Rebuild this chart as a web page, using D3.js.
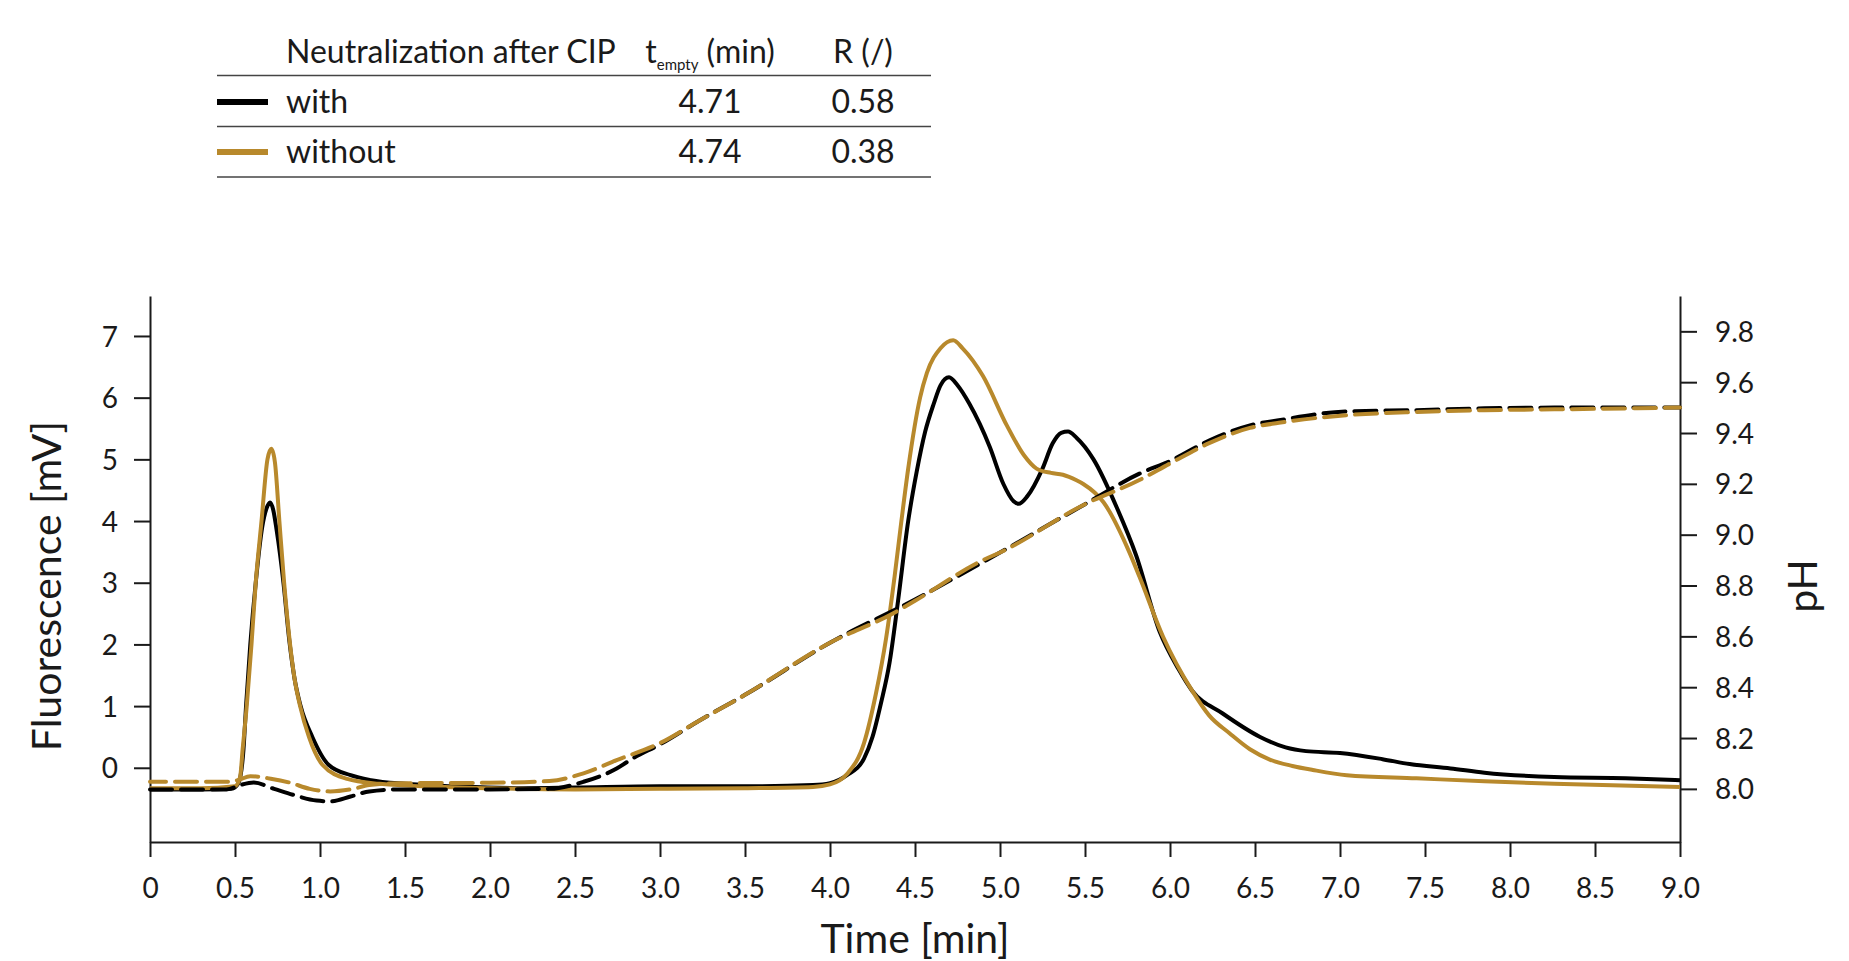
<!DOCTYPE html>
<html>
<head>
<meta charset="utf-8">
<script src="https://cdn.jsdelivr.net/npm/d3@7"></script>
<style>
  html, body { margin: 0; padding: 0; background: #ffffff; }
  svg { display: block; font-family: Lato, "Open Sans", sans-serif; }
</style>
</head>
<body>
<svg id="chart" width="1849" height="961"></svg>
<script>
// ---------- data ----------
const xTicks = [0, 0.5, 1, 1.5, 2, 2.5, 3, 3.5, 4, 4.5, 5, 5.5, 6, 6.5, 7, 7.5, 8, 8.5, 9];
const leftTicks = [0, 1, 2, 3, 4, 5, 6, 7];
const rightTicks = [8.0, 8.2, 8.4, 8.6, 8.8, 9.0, 9.2, 9.4, 9.6, 9.8];

const seriesNames = ["with", "without"];
const tEmptyValues = ["4.71", "4.74"];
const rValues = ["0.58", "0.38"];
const tableHeader = "Neutralization after CIP";

// Fluorescence, "with" neutralization (black solid)
const withFluoTime = [0, 0.3, 0.48, 0.52, 0.55, 0.565, 0.59, 0.622, 0.66, 0.685, 0.706, 0.725, 0.745, 0.785, 0.82, 0.85, 0.886, 0.955, 1.05, 1.18, 1.3, 1.5, 1.8, 2.2, 2.5, 3.0, 3.5, 3.9, 4.0, 4.1, 4.2, 4.25, 4.3, 4.35, 4.4, 4.46, 4.51, 4.56, 4.61, 4.65, 4.70, 4.75, 4.82, 4.94, 5.02, 5.08, 5.11, 5.16, 5.25, 5.31, 5.36, 5.40, 5.45, 5.55, 5.69, 5.80, 5.94, 6.05, 6.13, 6.31, 6.53, 6.68, 6.80, 7.0, 7.25, 7.41, 7.65, 7.85, 8.26, 8.68, 9.0];
const withFluo = [-0.35, -0.35, -0.34, -0.25, 0.3, 1.0, 2.0, 3.0, 3.9, 4.2, 4.3, 4.18, 3.85, 3.0, 2.05, 1.45, 1.0, 0.5, 0.05, -0.12, -0.2, -0.26, -0.3, -0.33, -0.32, -0.30, -0.30, -0.28, -0.25, -0.12, 0.15, 0.5, 1.05, 1.7, 2.7, 4.0, 4.8, 5.45, 5.9, 6.2, 6.33, 6.2, 5.9, 5.2, 4.6, 4.32, 4.28, 4.4, 4.85, 5.26, 5.43, 5.45, 5.35, 5.0, 4.2, 3.45, 2.2, 1.6, 1.25, 0.88, 0.5, 0.33, 0.27, 0.24, 0.14, 0.06, -0.01, -0.08, -0.15, -0.17, -0.2];

// Fluorescence, "without" neutralization (gold solid)
const withoutFluoTime = [0, 0.3, 0.5, 0.53, 0.545, 0.569, 0.597, 0.622, 0.656, 0.691, 0.714, 0.735, 0.761, 0.789, 0.824, 0.85, 0.883, 0.935, 1.014, 1.16, 1.35, 1.6, 2.0, 2.5, 3.0, 3.5, 3.9, 4.0, 4.1, 4.2, 4.27, 4.33, 4.38, 4.42, 4.46, 4.53, 4.57, 4.65, 4.725, 4.78, 4.90, 5.04, 5.14, 5.215, 5.30, 5.37, 5.45, 5.49, 5.61, 5.76, 5.82, 5.96, 6.13, 6.23, 6.35, 6.47, 6.59, 6.72, 6.84, 7.04, 7.45, 7.85, 8.26, 9.0];
const withoutFluo = [-0.33, -0.33, -0.3, -0.15, 0.3, 1.0, 2.0, 3.0, 4.0, 5.0, 5.17, 4.95, 4.0, 3.0, 2.0, 1.45, 1.0, 0.5, 0.05, -0.18, -0.26, -0.3, -0.33, -0.35, -0.34, -0.33, -0.31, -0.27, -0.1, 0.4, 1.2, 2.1, 3.1, 4.0, 4.85, 6.0, 6.4, 6.8, 6.93, 6.8, 6.35, 5.55, 5.07, 4.85, 4.78, 4.75, 4.66, 4.6, 4.3, 3.5, 3.1, 2.12, 1.25, 0.85, 0.56, 0.3, 0.13, 0.03, -0.035, -0.12, -0.17, -0.22, -0.26, -0.31];

// pH, "with" neutralization (black dashed)
const withPhTime = [0, 0.45, 0.53, 0.61, 0.73, 0.84, 0.98, 1.06, 1.18, 1.29, 1.47, 2.0, 2.35, 2.55, 2.745, 2.84, 3.0, 3.235, 3.5, 4.0, 4.5, 5.0, 5.5, 5.82, 6.0, 6.23, 6.47, 6.64, 7.04, 7.45, 7.85, 8.26, 9.0];
const withPh = [7.998, 7.998, 8.015, 8.025, 8.0, 7.977, 7.954, 7.951, 7.97, 7.99, 7.998, 7.998, 8.0, 8.028, 8.08, 8.12, 8.175, 8.27, 8.37, 8.575, 8.745, 8.93, 9.12, 9.24, 9.29, 9.37, 9.43, 9.45, 9.485, 9.49, 9.497, 9.5, 9.5];

// pH, "without" neutralization (gold dashed)
const withoutPhTime = [0, 0.45, 0.52, 0.59, 0.71, 0.82, 0.94, 1.06, 1.18, 1.29, 1.47, 2.0, 2.35, 2.55, 2.745, 3.0, 3.235, 3.5, 4.0, 4.37, 4.5, 4.9, 5.0, 5.5, 5.82, 6.0, 6.23, 6.47, 6.64, 7.04, 7.45, 7.85, 8.26, 9.0];
const withoutPh = [8.028, 8.028, 8.035, 8.05, 8.04, 8.025, 8.0, 7.99, 7.998, 8.015, 8.022, 8.024, 8.031, 8.061, 8.113, 8.18, 8.27, 8.37, 8.575, 8.69, 8.74, 8.90, 8.93, 9.12, 9.215, 9.28, 9.36, 9.42, 9.44, 9.47, 9.483, 9.49, 9.493, 9.5];

// ---------- styling ----------
const BLACK = "#000000";
const GOLD = "#B8892C";
const TEXT = "#1a1a1a";
const AXIS = "#1a1a1a";

const svg = d3.select("#chart");
const plotLeft = 150, plotRight = 1680, plotTop = 296, plotBottom = 842;

const x = d3.scaleLinear().domain([0, 9]).range([plotLeft, plotRight]);
const yF = d3.scaleLinear().domain([-1.203, 7.648]).range([plotBottom, plotTop]);
const yPH = d3.scaleLinear().domain([7.791, 9.939]).range([plotBottom, plotTop]);

const zip = (ts, vs) => ts.map((t, i) => [t, vs[i]]);

// ---------- axes ----------
const xAxis = d3.axisBottom(x).tickValues(xTicks).tickSize(15).tickSizeOuter(0)
  .tickFormat(d => d === 0 ? "0" : d.toFixed(1));
const gx = svg.append("g").attr("transform", `translate(0,${plotBottom})`).call(xAxis);
gx.selectAll("text").attr("y", 56).attr("dy", 0).style("font-size", "28px").attr("fill", TEXT);

const yAxisL = d3.axisLeft(yF).tickValues(leftTicks).tickSize(16).tickSizeOuter(0).tickFormat(d3.format("d"));
const gl = svg.append("g").attr("transform", `translate(${plotLeft},0)`).call(yAxisL);
gl.selectAll("text").attr("x", -32).attr("dy", "0.36em").style("font-size", "28px").attr("fill", TEXT);

const yAxisR = d3.axisRight(yPH).tickValues(rightTicks).tickSize(17).tickSizeOuter(0).tickFormat(d3.format(".1f"));
const gr = svg.append("g").attr("transform", `translate(${plotRight},0)`).call(yAxisR);
gr.selectAll("text").attr("x", 35).attr("dy", "0.36em").style("font-size", "28px").attr("fill", TEXT);

[gx, gl, gr].forEach(g => {
  g.select(".domain").attr("stroke", AXIS).attr("stroke-width", 2);
  g.selectAll(".tick line").attr("stroke", AXIS).attr("stroke-width", 2);
  g.attr("font-family", null);
});

// axis titles
svg.append("text").attr("x", (plotLeft + plotRight) / 2).attr("y", 953)
  .attr("text-anchor", "middle").style("font-size", "41px").attr("fill", TEXT).text("Time [min]");
svg.append("text").attr("transform", `translate(61,586) rotate(-90)`)
  .attr("text-anchor", "middle").style("font-size", "41px").attr("fill", TEXT).text("Fluorescence [mV]");
svg.append("text").attr("transform", `translate(1817,586) rotate(-90)`)
  .attr("text-anchor", "middle").style("font-size", "41px").attr("fill", TEXT).text("pH");

// ---------- lines ----------
const lineF = d3.line().x(d => x(d[0])).y(d => yF(d[1])).curve(d3.curveMonotoneX);
const linePH = d3.line().x(d => x(d[0])).y(d => yPH(d[1])).curve(d3.curveMonotoneX);

const plot = svg.append("g");
plot.append("path").datum(zip(withFluoTime, withFluo)).attr("d", lineF)
  .attr("fill", "none").attr("stroke", BLACK).attr("stroke-width", 4).attr("stroke-linejoin", "round");
plot.append("path").datum(zip(withoutFluoTime, withoutFluo)).attr("d", lineF)
  .attr("fill", "none").attr("stroke", GOLD).attr("stroke-width", 4).attr("stroke-linejoin", "round");
plot.append("path").datum(zip(withPhTime, withPh)).attr("d", linePH)
  .attr("fill", "none").attr("stroke", BLACK).attr("stroke-width", 4)
  .attr("stroke-dasharray", "22,9").attr("stroke-linecap", "round");
plot.append("path").datum(zip(withoutPhTime, withoutPh)).attr("d", linePH)
  .attr("fill", "none").attr("stroke", GOLD).attr("stroke-width", 4)
  .attr("stroke-dasharray", "22,9").attr("stroke-dashoffset", 6).attr("stroke-linecap", "round");

// ---------- table legend ----------
const tbl = svg.append("g");
const lineYs = [75.5, 126.5, 177];
tbl.selectAll("line.rule").data(lineYs).enter().append("line")
  .attr("x1", 217).attr("x2", 931).attr("y1", d => d).attr("y2", d => d)
  .attr("stroke", "#444").attr("stroke-width", 1.5);

tbl.append("text").attr("x", 286).attr("y", 63).style("font-size", "32px").attr("fill", TEXT).text(tableHeader);
const th = tbl.append("text").attr("x", 710).attr("y", 63).attr("text-anchor", "middle")
  .style("font-size", "32px").attr("fill", TEXT);
th.append("tspan").text("t");
th.append("tspan").attr("dy", 7).style("font-size", "15px").text("empty");
th.append("tspan").attr("dy", -7).text(" (min)");
tbl.append("text").attr("x", 863).attr("y", 63).attr("text-anchor", "middle")
  .style("font-size", "32px").attr("fill", TEXT).text("R (/)");

const rowY = [102, 152];
const colors = [BLACK, GOLD];
seriesNames.forEach((name, i) => {
  tbl.append("line").attr("x1", 217).attr("x2", 268).attr("y1", rowY[i]).attr("y2", rowY[i])
    .attr("stroke", colors[i]).attr("stroke-width", 6);
  tbl.append("text").attr("x", 286).attr("y", rowY[i] + 11).style("font-size", "32px").attr("fill", TEXT).text(name);
  tbl.append("text").attr("x", 710).attr("y", rowY[i] + 11).attr("text-anchor", "middle")
    .style("font-size", "32px").attr("fill", TEXT).text(tEmptyValues[i]);
  tbl.append("text").attr("x", 863).attr("y", rowY[i] + 11).attr("text-anchor", "middle")
    .style("font-size", "32px").attr("fill", TEXT).text(rValues[i]);
});
</script>
</body>
</html>
